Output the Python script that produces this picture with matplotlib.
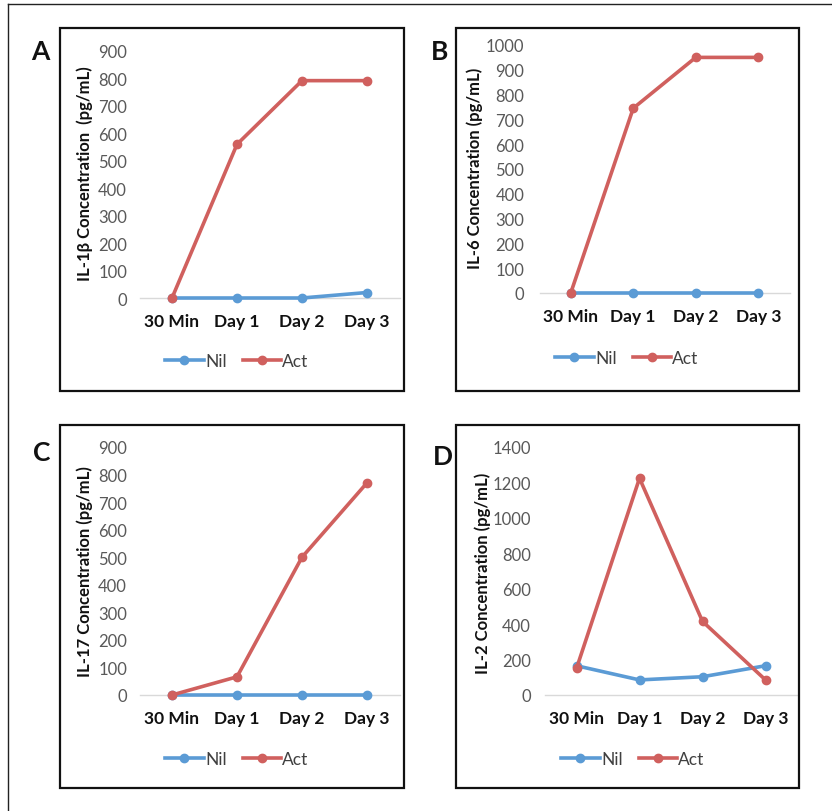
import matplotlib
matplotlib.use("Agg")
import matplotlib.pyplot as plt
from matplotlib.patches import Rectangle
from matplotlib.lines import Line2D

plt.rcParams['font.family'] = ['Lato', 'DejaVu Sans']

categories = ["30 Min", "Day 1", "Day 2", "Day 3"]
series_names = ["Nil", "Act"]

il1b_nil = [0, 0, 0, 20]
il1b_act = [0, 560, 792, 792]
il6_nil = [0, 0, 0, 0]
il6_act = [0, 745, 950, 950]
il17_nil = [0, 0, 0, 0]
il17_act = [0, 66, 500, 770]
il2_nil = [165, 85, 103, 165]
il2_act = [150, 1222, 415, 85]

ylabels = ["IL-1β Concentration  (pg/mL)", "IL-6 Concentration (pg/mL)",
           "IL-17 Concentration (pg/mL)", "IL-2 Concentration (pg/mL)"]
panel_letters = ["A", "B", "C", "D"]
ymaxes = [900, 1000, 900, 1400]
ysteps = [100, 100, 100, 200]

BLUE = "#5B9BD5"
RED = "#D0605E"

W, H = 832, 812
fig = plt.figure(figsize=(W / 100, H / 100), dpi=100)


def frac_rect(x0, y0, x1, y1):
    return [x0 / W, 1 - y1 / H, (x1 - x0) / W, (y1 - y0) / H]


# outer border
fig.add_artist(Line2D([8 / W, 8 / W], [0, 1 - 5 / H], transform=fig.transFigure,
                      color="#222222", lw=1.0))
fig.add_artist(Line2D([8 / W, 1], [1 - 5 / H, 1 - 5 / H], transform=fig.transFigure,
                      color="#222222", lw=1.0))

panels = [
    dict(box=(60, 29, 404, 392), ax=(139.5, 52, 399.5, 299), nil=il1b_nil, act=il1b_act,
         letter=(40, 52), ylab=(85, 174), leg=(237, 362), ypad=9),
    dict(box=(456, 29, 799, 392), ax=(539.5, 46, 789.5, 294), nil=il6_nil, act=il6_act,
         letter=(440, 52), ylab=(475, 168), leg=(627, 359), ypad=11),
    dict(box=(60, 426, 404, 789), ax=(139.5, 448, 399.5, 696), nil=il17_nil, act=il17_act,
         letter=(42, 453), ylab=(85, 572), leg=(237, 760), ypad=9),
    dict(box=(456, 426, 799, 789), ax=(545, 447.7, 797, 696), nil=il2_nil, act=il2_act,
         letter=(443, 457), ylab=(483, 573), leg=(633, 760), ypad=10),
]

for i, p in enumerate(panels):
    bx0, by0, bx1, by1 = p["box"]
    fig.add_artist(Rectangle((bx0 / W, 1 - by1 / H), (bx1 - bx0) / W, (by1 - by0) / H,
                             transform=fig.transFigure, fill=False,
                             edgecolor="#111111", lw=1.6))
    ax = fig.add_axes(frac_rect(*p["ax"]))
    ax.patch.set_alpha(0)
    x = list(range(len(categories)))
    l1, = ax.plot(x, p["nil"], color=BLUE, lw=2.6, marker="o", ms=6, label=series_names[0],
                  clip_on=False, zorder=3)
    l2, = ax.plot(x, p["act"], color=RED, lw=2.6, marker="o", ms=6, label=series_names[1],
                  clip_on=False, zorder=4)
    ax.set_xlim(-0.5, len(categories) - 0.5)
    ax.set_ylim(0, ymaxes[i])
    ax.set_yticks(range(0, ymaxes[i] + 1, ysteps[i]))
    ax.set_xticks(x)
    ax.set_xticklabels(categories, fontsize=12.5, fontweight="bold", color="#111111")
    for s in ["top", "right", "left"]:
        ax.spines[s].set_visible(False)
    ax.spines["bottom"].set_color("#D9D9D9")
    ax.spines["bottom"].set_linewidth(1.0)
    ax.tick_params(axis="y", length=0, pad=p["ypad"], labelsize=12, labelcolor="#595959")
    ax.tick_params(axis="x", length=0, pad=11)
    # y label
    fig.text(p["ylab"][0] / W, 1 - p["ylab"][1] / H, ylabels[i], rotation=90,
             ha="center", va="center", fontsize=12, fontweight="bold", color="#111111")
    # panel letter
    fig.text(p["letter"][0] / W, 1 - p["letter"][1] / H, panel_letters[i],
             ha="center", va="center", fontsize=19, fontweight="bold", color="#111111")
    # legend
    fig.legend(handles=[l1, l2], loc="center",
               bbox_to_anchor=(p["leg"][0] / W, 1 - p["leg"][1] / H),
               ncol=2, frameon=False, fontsize=12.5, handlelength=2.2,
               handletextpad=0.1, columnspacing=0.9, labelcolor="#404040")

fig.savefig("out.png", dpi=100)
